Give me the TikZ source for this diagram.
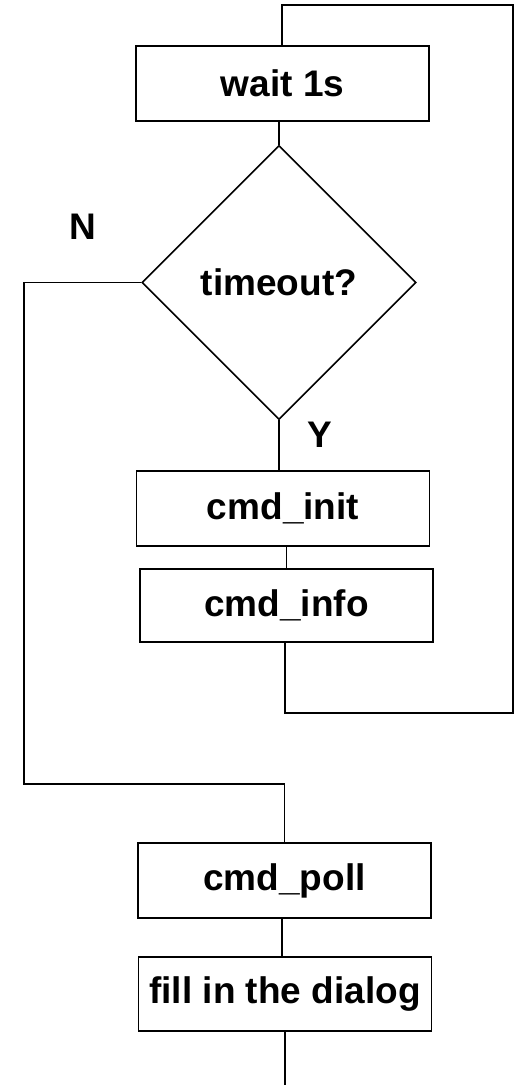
\documentclass[tikz,border=0pt]{standalone}
\usepackage{fontspec}
\setmainfont{Liberation Sans}
\usetikzlibrary{shapes.geometric,calc}
\tikzset{
  link/.style={draw=black, line width=0.8pt},
  stepbox/.style={draw=black, line width=0.8pt, minimum width=146.5pt,
    minimum height=37.5pt, inner sep=0pt, font=\fontsize{18.5}{22}\selectfont\bfseries},
  decide/.style={diamond, draw=black, line width=0.8pt, aspect=1, inner sep=0pt,
    minimum width=137pt, minimum height=137pt, font=\fontsize{18.5}{22}\selectfont\bfseries},
  branch/.style={inner sep=0pt, font=\fontsize{18.5}{22}\selectfont\bfseries}
}

\begin{document}
\begin{tikzpicture}[x=0.5pt,y=-0.5pt]
                \useasboundingbox (0,0) rectangle (514,1085);

                \node[stepbox] (wait) at (282.5,83.5) {wait 1s};
                \node[decide] (tmo) at (279,282.5) {timeout?};
                \node[stepbox] (init) at (283,508.5) {cmd\_init};
                \node[stepbox, minimum height=36.5pt] (info) at (286.5,605.5) {cmd\_info};
                \node[stepbox] (poll) at (284.5,880.5) {cmd\_poll};
                \node[stepbox, minimum height=37pt] (dlg) at (285,994) {fill in the dialog};

                \node[branch] (nlbl) at (83,227) {N};
                \node[branch] (ylbl) at (320,435) {Y};

                % corners of the loop back and of the N branch
                \coordinate (loopbr) at (513,713);
                \coordinate (looptr) at (513,5);
                \coordinate (njoin) at (24,784);
                \coordinate (exit) at (285,1085);

                \draw[link] (wait.south -| tmo.north) -- (tmo.north);
                \draw[link] (tmo.south) -- (tmo.south |- init.north);
                \draw[link] (init.south -| info.north) -- (info.north);
                \draw[link] ([xshift=-0.75pt]info.south) |- (loopbr) -- (looptr) -| ([xshift=-0.25pt]wait.north);
                \draw[link] (tmo.west) -| (njoin) -| (poll.north);
                \draw[link] ([xshift=-1.25pt]poll.south) -- ([xshift=-1.5pt]dlg.north);
                \draw[link] (dlg.south) -- (exit);
            \end{tikzpicture}
\end{document}
